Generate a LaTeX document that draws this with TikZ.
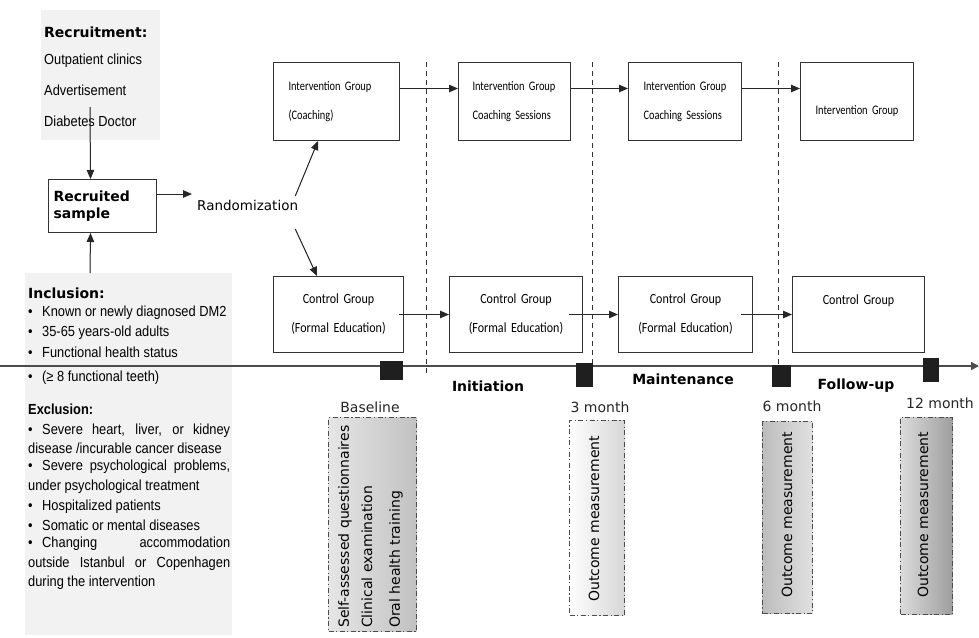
\documentclass[tikz,border=0pt]{standalone}
\usepackage{fontspec}
\setmainfont{DejaVu Sans}
\newfontfamily\lib[FakeStretch=0.88]{Liberation Sans}
\newfontfamily\carl[FakeStretch=0.8]{Carlito}
\newfontfamily\carlc[FakeStretch=0.86]{Carlito}
\usetikzlibrary{arrows.meta}
\definecolor{panel}{HTML}{F2F2F3}
\definecolor{boxline}{HTML}{333333}
\begin{document}
\begin{tikzpicture}[x=1pt,y=-1pt,
  arr/.style={-{Triangle[length=9pt,width=7.5pt]}, line width=1pt, draw=black!85, fill=black!85},
  grp/.style={draw=boxline, line width=1pt, inner ysep=0pt, anchor=north west, minimum height=78pt, font=\carl\fontsize{13}{14}\selectfont},
  ctl/.style={draw=boxline, line width=1pt, inner sep=0pt, anchor=north west, minimum height=76pt, align=center, text width=124pt, font=\carlc\fontsize{14}{15}\selectfont},
  lft/.style={anchor=west, inner sep=0pt, font=\lib\fontsize{14.6}{16}\selectfont},
  vd/.style={dash pattern=on 5pt off 4pt, line width=1pt, black!80},
  dd/.style={draw=black!70, line width=1pt, dash pattern=on 5pt off 2.5pt on 1.2pt off 2.5pt, anchor=north west, inner sep=0pt},
  rot/.style={rotate=90, anchor=west, inner sep=0pt, font=\fontsize{14}{16}\selectfont},
  sq/.style={fill=black!88, inner sep=0pt},
  mon/.style={inner sep=0pt, text=black!85, font=\fontsize{14}{16}\selectfont},
  phase/.style={inner sep=0pt, font=\bfseries\fontsize{14}{16}\selectfont}]

\useasboundingbox (0,0) rectangle (979,637);
\fill[white] (0,0) rectangle (979,637);

% panels
\node[fill=panel, minimum width=119pt, minimum height=130pt, anchor=north west, inner sep=0pt] (recbg) at (41,10) {};
\node[fill=panel, minimum width=207pt, minimum height=362pt, anchor=north west, inner sep=0pt] (incbg) at (25,273) {};

% recruitment
\node[anchor=west, inner sep=0pt, font=\bfseries\fontsize{14}{16}\selectfont] (rt) at (44,32) {Recruitment:};
\node[lft] (r1) at (44,61) {Outpatient clinics};
\node[lft] (r2) at (44,90) {Advertisement};
\node[lft] (r3) at (44,121) {Diabetes Doctor};

\node[draw=boxline, line width=1pt, minimum width=108pt, minimum height=53pt, anchor=north west, text width=98pt, align=left, inner xsep=5pt, font=\bfseries\fontsize{14}{17}\selectfont] (rs) at (48,179) {Recruited\\sample};

\node[anchor=west, inner sep=0pt, font=\fontsize{13.5}{16}\selectfont] (rand) at (197,205) {Randomization};

\coordinate (a0) at (90,107);
\draw[arr] (a0) -- ([xshift=-12pt]rs.north);
\draw[arr] ([xshift=65pt]incbg.north west) -- ([xshift=-12pt]rs.south);
\draw[arr] ([yshift=12pt]rs.east) -- ([xshift=-5pt,yshift=11pt]rand.west);

% intervention boxes
\node[grp, minimum width=126pt, text width=96pt, inner xsep=15pt, align=left] (ig1) at (273,62) {Intervention Group\\[15pt](Coaching)};
\node[grp, minimum width=112pt, text width=84pt, inner xsep=14pt, align=left] (ig2) at (458,62) {Intervention Group\\[15pt]Coaching Sessions};
\node[grp, minimum width=113pt, text width=83pt, inner xsep=15pt, align=left] (ig3) at (628,62) {Intervention Group\\[15pt]Coaching Sessions};
\node[grp, minimum width=113pt, text width=100pt, inner xsep=6.5pt, align=center] (ig4) at (800,62) {~\\[15pt]Intervention Group};

% control boxes
\node[ctl, minimum width=130pt] (cg1) at (273,276) {Control Group\\[14pt](Formal Education)};
\node[ctl, minimum width=133pt] (cg2) at (449,276) {Control Group\\[14pt](Formal Education)};
\node[ctl, minimum width=134pt] (cg3) at (618,276) {Control Group\\[14pt](Formal Education)};
\node[ctl, minimum width=132pt] (cg4) at (792,276) {Control Group\\[14pt]~};

% arrows between groups
\draw[arr] ([yshift=13pt]ig1.east) -- ([yshift=13pt]ig2.west);
\draw[arr] ([yshift=13pt]ig2.east) -- ([yshift=13pt]ig3.west);
\draw[arr] ([yshift=13pt]ig3.east) -- ([yshift=13pt]ig4.west);
\draw[arr] ([xshift=-5pt]cg1.east) -- (cg2.west);
\draw[arr] ([xshift=-14pt]cg2.east) -- (cg3.west);
\draw[arr] ([xshift=-12pt]cg3.east) -- (cg4.west);

\draw[arr] ([xshift=-3pt,yshift=9pt]rand.east) -- ([xshift=45pt]ig1.south west);
\draw[arr] ([xshift=-3pt,yshift=-24pt]rand.east) -- ([xshift=44pt]cg1.north west);

% vertical dashed lines
\coordinate (d1a) at (426,62); \coordinate (d1b) at (426,374);
\coordinate (d2a) at (592,62); \coordinate (d2b) at (592,366);
\coordinate (d3a) at (778,62); \coordinate (d3b) at (778,366);
\draw[vd] (d1a) -- (d1b);
\draw[vd] (d2a) -- (d2b);
\draw[vd] (d3a) -- (d3b);

% timeline
\coordinate (t0) at (0,366);
\coordinate (t1) at (979,366);
\draw[-{Triangle[length=8pt,width=8pt]}, line width=1.5pt, black!70] (t0) -- (t1);
\node[sq, minimum width=23pt, minimum height=19pt] (s1) at (391.5,370.5) {};
\node[sq, minimum width=17pt, minimum height=24pt] (s2) at (584.5,375) {};
\node[sq, minimum width=19pt, minimum height=22pt] (s3) at (781.5,376) {};
\node[sq, minimum width=16pt, minimum height=24pt] (s4) at (931,370) {};

\node[phase] (p1) at (488,386) {Initiation};
\node[phase] (p2) at (683,379) {Maintenance};
\node[phase] (p3) at (856,386) {Follow-up};

\node[mon] (m0) at (370,407) {Baseline};
\node[mon] (m3) at (600,407) {3 month};
\node[mon] (m6) at (792,406) {6 month};
\node[mon] (m12) at (940,403) {12 month};

% measurement boxes
\node[dd, minimum width=88pt, minimum height=214pt, left color=black!10, right color=black!24] (bx0) at (328,417) {};
\node[dd, minimum width=55pt, minimum height=195pt, left color=white, right color=black!16] (bx3) at (569,420) {};
\node[dd, minimum width=50pt, minimum height=192pt, left color=black!26, right color=black!12] (bx6) at (762,421) {};
\node[dd, minimum width=52pt, minimum height=197pt, left color=black!14, right color=black!38] (bx12) at (900,417) {};

\node[rot] (b1) at (345,628) {Self-assessed questionnaires};
\node[rot] (b2) at (367,628) {Clinical examination};
\node[rot] (b3) at (396,628) {Oral health training};
\node[rot] (o3) at (594,602) {Outcome measurement};
\node[rot] (o6) at (787,598) {Outcome measurement};
\node[rot] (o12) at (923,598) {Outcome measurement};

% inclusion / exclusion
\node[anchor=west, inner sep=0pt, font=\bfseries\fontsize{14}{16}\selectfont] (inc) at (28,293) {Inclusion:};
\node[lft] (i1) at (28,313) {\makebox[14pt][l]{•}Known or newly diagnosed DM2};
\node[lft] (i2) at (28,333) {\makebox[14pt][l]{•}35-65 years-old adults};
\node[lft] (i3) at (28,352) {\makebox[14pt][l]{•}Functional health status};
\node[lft] (i4) at (28,378) {\makebox[14pt][l]{•}(≥ 8 functional teeth)};
\node[lft, font=\lib\bfseries\fontsize{14.6}{16}\selectfont] (exc) at (28,409) {Exclusion:};
\node[lft] (e1) at (28,431) {\makebox[14pt][l]{•}\makebox[188pt][s]{Severe heart, liver, or kidney}};
\node[lft] (e2) at (28,448) {disease /incurable cancer disease};
\node[lft] (e3) at (28,467) {\makebox[14pt][l]{•}\makebox[188pt][s]{Severe psychological problems,}};
\node[lft] (e4) at (28,487) {under psychological treatment};
\node[lft] (e5) at (28,507) {\makebox[14pt][l]{•}Hospitalized patients};
\node[lft] (e6) at (28,525) {\makebox[14pt][l]{•}Somatic or mental diseases};
\node[lft] (e7) at (28,544) {\makebox[14pt][l]{•}\makebox[188pt][s]{Changing accommodation}};
\node[lft] (e8) at (28,564) {\makebox[202pt][s]{outside Istanbul or Copenhagen}};
\node[lft] (e9) at (28,583) {during the intervention};
\end{tikzpicture}
\end{document}
